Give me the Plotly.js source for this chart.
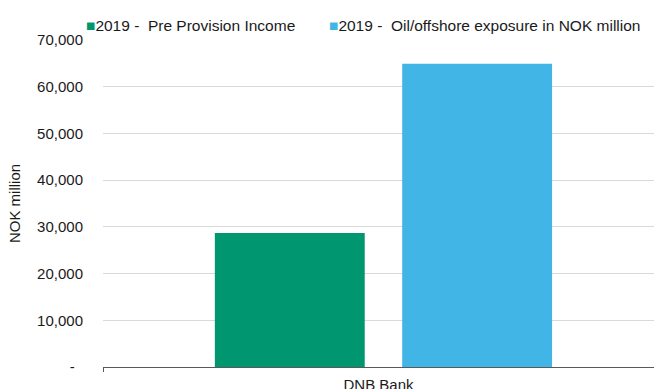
<!DOCTYPE html>
<html>
<head>
<meta charset="utf-8">
<script src="https://cdn.plot.ly/plotly-3.0.1.min.js"></script>
<style>html,body{margin:0;padding:0;background:#fff;}#chart{width:654px;height:389px;}</style>
</head>
<body>
<div id="chart"></div>
<script>
const categories = ["DNB Bank"];
const seriesNames = ["2019 -  Pre Provision Income", "2019 -  Oil/offshore exposure in NOK million"];
const seriesColors = ["#009670", "#41B6E6"];
const preProvisionIncome = [28700];
const oilOffshoreExposure = [64900];
const yTickVals = [0, 10000, 20000, 30000, 40000, 50000, 60000, 70000];
const yTickText = ["-\u00a0\u00a0", "10,000", "20,000", "30,000", "40,000", "50,000", "60,000", "70,000"];

const font = {family: "Liberation Sans, Arial, sans-serif", size: 15, color: "#1a1a1a"};
const legendFont = {family: "Liberation Sans, Arial, sans-serif", size: 15.5, color: "#1a1a1a"};

const traces = [
  {type: "bar", name: seriesNames[0], x: categories, y: preProvisionIncome,
   marker: {color: seriesColors[0]}, width: 0.272, offset: -0.297, hoverinfo: "none", showlegend: false},
  {type: "bar", name: seriesNames[1], x: categories, y: oilOffshoreExposure,
   marker: {color: seriesColors[1]}, width: 0.272, offset: 0.043, hoverinfo: "none", showlegend: false}
];

const legendX = [84 / 654, 327 / 654];
const annotations = seriesNames.map((name, i) => ({
  xref: "paper", yref: "paper", x: (legendX[i] * 654 - 103) / 551, y: 1 + (40 - 25.7) / 327,
  xanchor: "left", yanchor: "middle", showarrow: false, align: "left",
  text: '<span style="color:' + seriesColors[i] + '">\u25A0</span>' + name.replace(/ /g, "\u00a0"),
  font: legendFont
}));

const layout = {
  width: 654, height: 389,
  margin: {l: 103, r: 0, t: 40, b: 22, pad: 0},
  paper_bgcolor: "#fff", plot_bgcolor: "#fff",
  font: font,
  showlegend: false,
  annotations: annotations,
  barmode: "group",
  xaxis: {type: "category", range: [-0.5, 0.5], showgrid: false, showline: true,
          linecolor: "#595959", linewidth: 1, ticks: "outside", tickson: "boundaries",
          ticklen: 4, tickcolor: "#595959", zeroline: false, fixedrange: true,
          ticklabelstandoff: 4},
  yaxis: {range: [0, 70000], tickvals: yTickVals, ticktext: yTickText, showgrid: true,
          gridcolor: "#d9d9d9", gridwidth: 1, showline: false, zeroline: false,
          ticks: "", ticklabelstandoff: 19,
          title: {text: "NOK million", font: font, standoff: 12}, fixedrange: true}
};

Plotly.newPlot("chart", traces, layout, {displayModeBar: false, staticPlot: true});
</script>
</body>
</html>
